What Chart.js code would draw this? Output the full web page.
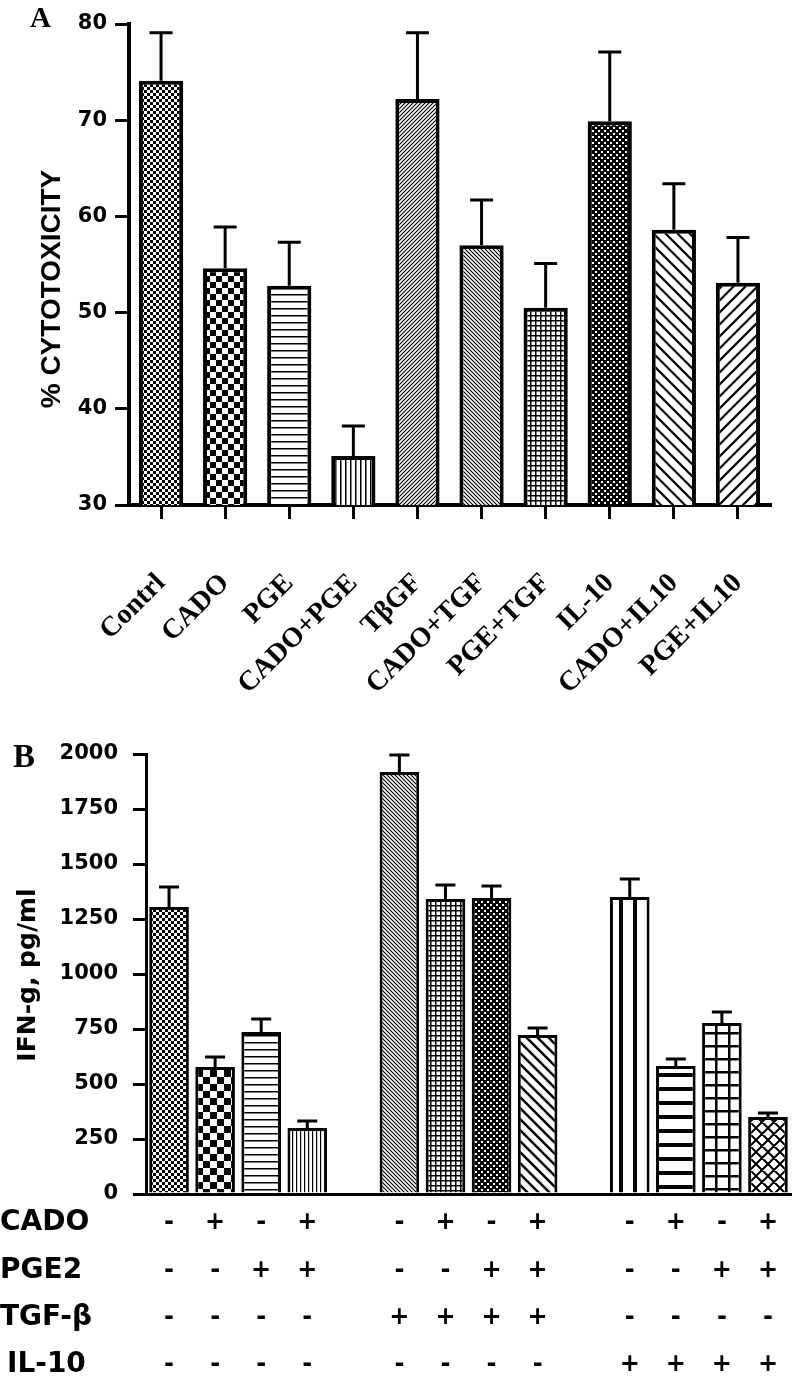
<!DOCTYPE html>
<html>
<head>
<meta charset="utf-8">
<script src="https://cdn.jsdelivr.net/npm/chart.js@4.4.0/dist/chart.umd.min.js"></script>
<style>
  body { margin: 0; background: #fff; }
  canvas { position: absolute; left: 0; }
  #cnvA { top: 0; }
  #cnvB { top: 720px; }
</style>
</head>
<body>
<canvas id="cnvA" width="793" height="720"></canvas>
<canvas id="cnvB" width="793" height="661"></canvas>
<script>
// ---- panel A ----
const etiquetasA = ['Contrl', 'CADO', 'PGE', 'CADO+PGE', 'TβGF', 'CADO+TGF', 'PGE+TGF', 'IL-10', 'CADO+IL10', 'PGE+IL10'];
const citotoxicidad = [74.1, 54.6, 52.8, 35.1, 72.2, 57.0, 50.5, 69.9, 58.6, 53.1];
const errorA = [5.0, 4.3, 4.5, 3.1, 6.9, 4.7, 4.6, 7.2, 4.8, 4.7];

// ---- panel B ----
const interferon = [1305, 577, 736, 300, 1918, 1341, 1345, 723, 1350, 582, 777, 350];
const errorB = [90, 46, 59, 32, 77, 64, 55, 32, 82, 32, 50, 18];
const filas = ['CADO', 'PGE2', 'TGF-β', 'IL-10'];
const cado = ['-', '+', '-', '+', '-', '+', '-', '+', '-', '+', '-', '+'];
const pge2 = ['-', '-', '+', '+', '-', '-', '+', '+', '-', '-', '+', '+'];
const tgf  = ['-', '-', '-', '-', '+', '+', '+', '+', '-', '-', '-', '-'];
const il10 = ['-', '-', '-', '-', '-', '-', '-', '-', '+', '+', '+', '+'];
const signos = [cado, pge2, tgf, il10];

$(inicio);

function $(fn) { window.addEventListener('load', fn); }

// tramas (patrones de relleno)
function trama(ctx, tam, dibujar) {
  const c = document.createElement('canvas');
  c.width = tam; c.height = tam;
  const g = c.getContext('2d');
  g.fillStyle = '#fff';
  g.fillRect(0, 0, tam, tam);
  g.fillStyle = '#000';
  g.strokeStyle = '#000';
  dibujar(g, tam);
  return ctx.createPattern(c, 'repeat');
}
const cuadros = (ctx, celda) => trama(ctx, celda * 2, (g, t) => {
  g.fillRect(0, 0, celda, celda); g.fillRect(celda, celda, celda, celda);
});
const puntos = (ctx, celda) => trama(ctx, celda * 2, (g, t) => {
  g.fillRect(0, 0, t, t); g.fillStyle = '#fff';
  g.fillRect(1, 1, celda - 1, celda - 1); g.fillRect(celda + 1, celda + 1, celda - 1, celda - 1);
});
const lineasH = (ctx, paso, grosor, desde = 0) => trama(ctx, paso, (g, t) => g.fillRect(0, desde, t, grosor));
const lineasV = (ctx, paso, grosor, desde = 0) => trama(ctx, paso, (g, t) => g.fillRect(desde, 0, grosor, t));
const rejilla = (ctx, paso, grosor) => trama(ctx, paso, (g, t) => { g.fillRect(0, 0, t, grosor); g.fillRect(0, 0, grosor, t); });
function diagonal(ctx, paso, grosor, dir) {
  return trama(ctx, paso, (g, t) => {
    g.lineWidth = grosor;
    g.beginPath();
    for (let k = -1; k <= 1; k++) {
      if (dir === '/') { g.moveTo(k * t - 1, t + 1); g.lineTo(k * t + t + 1, -1); }
      else { g.moveTo(k * t - 1, -1); g.lineTo(k * t + t + 1, t + 1); }
    }
    g.stroke();
  });
}
function rombos(ctx, paso, grosor) {
  return trama(ctx, paso, (g, t) => {
    g.lineWidth = grosor;
    g.beginPath();
    for (let k = -1; k <= 1; k++) {
      g.moveTo(k * t - 1, t + 1); g.lineTo(k * t + t + 1, -1);
      g.moveTo(k * t - 1, -1); g.lineTo(k * t + t + 1, t + 1);
    }
    g.stroke();
  });
}

// barras de error (solo hacia arriba)
const barrasError = {
  id: 'barrasError',
  afterDatasetsDraw(chart, args, opts) {
    const ctx = chart.ctx;
    const y = chart.scales.y;
    const datos = chart.data.datasets[0].data;
    ctx.save();
    ctx.strokeStyle = '#000';
    ctx.lineWidth = opts.grosor;
    chart.getDatasetMeta(0).data.forEach((barra, i) => {
      const v = datos[i], e = opts.errores[i];
      if (v == null || e == null) return;
      const yTop = y.getPixelForValue(v + e);
      ctx.beginPath();
      ctx.moveTo(barra.x, barra.y);
      ctx.lineTo(barra.x, yTop);
      ctx.moveTo(barra.x - opts.tapa / 2, yTop);
      ctx.lineTo(barra.x + opts.tapa / 2, yTop);
      ctx.stroke();
    });
    ctx.restore();
  }
};

// letra del panel y titulo del eje y
const rotulos = {
  id: 'rotulos',
  afterDraw(chart, args, o) {
    const ctx = chart.ctx;
    ctx.save();
    ctx.fillStyle = '#000';
    ctx.font = o.fuenteLetra;
    ctx.textAlign = 'left';
    ctx.textBaseline = 'alphabetic';
    ctx.fillText(o.letra, o.xLetra, o.yLetra);
    ctx.font = o.fuenteTitulo;
    ctx.translate(o.xTitulo, o.yTitulo);
    ctx.rotate(-Math.PI / 2);
    ctx.textAlign = 'center';
    ctx.textBaseline = 'middle';
    ctx.fillText(o.titulo, 0, 0);
    ctx.restore();
  }
};

// tabla de tratamientos bajo el panel B
const tabla = {
  id: 'tabla',
  afterDraw(chart, args, o) {
    const ctx = chart.ctx;
    const x = chart.scales.x;
    const base = chart.chartArea.bottom;
    ctx.save();
    ctx.fillStyle = '#000';
    ctx.textBaseline = 'middle';
    filas.forEach((nombre, r) => {
      const yFila = base + 29 + r * 47.3;
      ctx.font = 'bold 28px "DejaVu Sans"';
      ctx.textAlign = 'left';
      ctx.fillText(nombre, nombre === 'IL-10' ? 7 : 0, yFila);
      ctx.font = 'bold 24px "DejaVu Sans"';
      ctx.textAlign = 'center';
      signos[r].forEach((s, i) => {
        ctx.fillText(s, x.getPixelForValue(o.posiciones[i]), yFila);
      });
    });
    ctx.restore();
  }
};

function inicio() {
  // ---------- A ----------
  const cnvA = document.getElementById('cnvA');
  const cA = cnvA.getContext('2d');
  const tramasA = [
    cuadros(cA, 3),
    cuadros(cA, 6),
    lineasH(cA, 7, 1.5),
    lineasV(cA, 5, 1.5),
    diagonal(cA, 4, 1.2, '/'),
    diagonal(cA, 4, 1.2, '\\'),
    rejilla(cA, 5, 1.5),
    puntos(cA, 3),
    diagonal(cA, 12, 2.2, '\\'),
    diagonal(cA, 12, 2.2, '/')
  ];

  new Chart(cnvA, {
    type: 'bar',
    data: {
      labels: etiquetasA,
      datasets: [{
        data: citotoxicidad,
        backgroundColor: tramasA,
        borderColor: '#000',
        borderWidth: 4,
        borderSkipped: 'bottom',
        barPercentage: 0.69,
        categoryPercentage: 1
      }]
    },
    options: {
      responsive: false,
      animation: false,
      layout: { padding: { top: 24, right: 23, left: 0, bottom: 0 } },
      plugins: {
        legend: { display: false },
        tooltip: { enabled: false },
        barrasError: { errores: errorA, grosor: 3, tapa: 23 },
        rotulos: {
          letra: 'A', fuenteLetra: 'bold 29px "Liberation Serif"', xLetra: 30, yLetra: 27,
          titulo: '% CYTOTOXICITY', fuenteTitulo: 'bold 28px "Liberation Sans"', xTitulo: 52, yTitulo: 289
        }
      },
      scales: {
        x: {
          grid: { drawOnChartArea: false, offset: false, tickLength: 14, lineWidth: 3, color: '#000' },
          border: { color: '#000', width: 4 },
          ticks: {
            color: '#000', autoSkip: false, minRotation: 45, maxRotation: 45, padding: 48,
            font: { family: 'Liberation Serif', weight: 'bold', size: 28 }
          },
          afterFit(s) { s.height = 215; s.paddingLeft = 0; s.paddingRight = 0; }
        },
        y: {
          min: 30, max: 80,
          ticks: { stepSize: 10, color: '#000', padding: 8, font: { family: 'DejaVu Sans', weight: 'bold', size: 21 } },
          grid: { drawOnChartArea: false, tickLength: 14, lineWidth: 3, color: '#000' },
          border: { color: '#000', width: 4 },
          afterFit(s) { s.width = 129; }
        }
      }
    },
    plugins: [barrasError, rotulos]
  });

  // ---------- B ----------
  const cnvB = document.getElementById('cnvB');
  const cB = cnvB.getContext('2d');
  const tramasB = [
    cuadros(cB, 3),
    cuadros(cB, 7),
    lineasH(cB, 7.5, 1.5),
    lineasV(cB, 4, 1.2),
    diagonal(cB, 4, 1.2, '\\'),
    rejilla(cB, 5, 1.5),
    puntos(cB, 3),
    diagonal(cB, 11, 2.5, '\\'),
    lineasV(cB, 14, 4, 3),
    lineasH(cB, 14, 4, 3),
    rejilla(cB, 13, 2.5),
    rombos(cB, 12, 2)
  ];

  // 14 posiciones: tres grupos de 4 con un hueco entre grupos
  const etiquetasB = [], valoresB = [], erroresB = [], fondosB = [], posiciones = [];
  interferon.forEach((v, i) => {
    if (i > 0 && i % 4 === 0) {
      etiquetasB.push(''); valoresB.push(null); erroresB.push(null); fondosB.push('#fff');
    }
    posiciones.push(etiquetasB.length);
    etiquetasB.push(String(i + 1));
    valoresB.push(v);
    erroresB.push(errorB[i]);
    fondosB.push(tramasB[i]);
  });

  new Chart(cnvB, {
    type: 'bar',
    data: {
      labels: etiquetasB,
      datasets: [{
        data: valoresB,
        backgroundColor: fondosB,
        borderColor: '#000',
        borderWidth: 3,
        borderSkipped: 'bottom',
        barPercentage: 0.86,
        categoryPercentage: 1
      }]
    },
    options: {
      responsive: false,
      animation: false,
      layout: { padding: { top: 34, right: 2, left: 0, bottom: 0 } },
      plugins: {
        legend: { display: false },
        tooltip: { enabled: false },
        barrasError: { errores: erroresB, grosor: 3, tapa: 20 },
        tabla: { posiciones },
        rotulos: {
          letra: 'B', fuenteLetra: 'bold 33px "Liberation Serif"', xLetra: 13, yLetra: 47,
          titulo: 'IFN-g, pg/ml', fuenteTitulo: 'bold 25px "DejaVu Sans"', xTitulo: 28, yTitulo: 255
        }
      },
      scales: {
        x: {
          grid: { display: false },
          border: { color: '#000', width: 3 },
          ticks: { display: false },
          afterFit(s) { s.height = 187; }
        },
        y: {
          min: 0, max: 2000,
          ticks: {
            stepSize: 250, color: '#000', padding: 15,
            font: { family: 'DejaVu Sans', weight: 'bold', size: 21 },
            callback: v => String(v)
          },
          grid: { drawOnChartArea: false, tickLength: 13, lineWidth: 3, color: '#000' },
          border: { color: '#000', width: 3 },
          afterFit(s) { s.width = 146; }
        }
      }
    },
    plugins: [barrasError, rotulos, tabla]
  });
}
</script>
</body>
</html>
